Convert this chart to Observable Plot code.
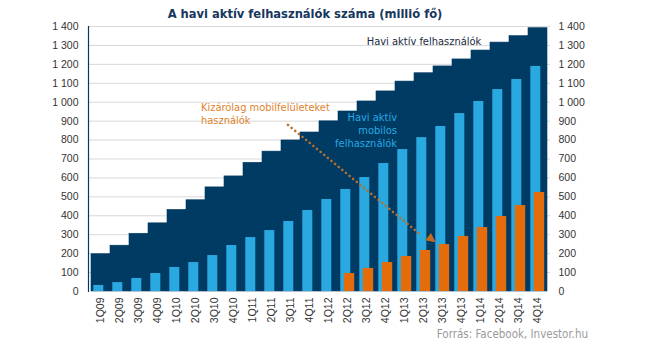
<!DOCTYPE html>
<html>
<head>
<meta charset="utf-8">
<script src="https://cdn.jsdelivr.net/npm/d3@7"></script>
<script src="https://cdn.jsdelivr.net/npm/@observablehq/plot@0.6"></script>
<style>
  html, body { margin: 0; padding: 0; background: #fff; }
  #wrap { width: 645px; height: 347px; position: relative; overflow: hidden; }
  #title { height: 18px; width: 610px; text-align: center; font: bold 12.8px 'Liberation Sans Narrow', 'DejaVu Sans Condensed', Arial, sans-serif; line-height: 27px; color: #17375e; overflow: visible; }
  #caption { position: absolute; left: 0; top: 327px; width: 588px; text-align: right; font: 11.5px 'Liberation Sans Narrow', 'DejaVu Sans Condensed', Arial, sans-serif; color: #9a9a9a; }
</style>
</head>
<body>
<div id="wrap">
  <div id="title">A havi aktív felhasználók száma (millió fő)</div>
  <div id="chart"></div>
  <div id="caption">Forrás: Facebook, Investor.hu</div>
</div>
<script>
const quarters = ["1Q09","2Q09","3Q09","4Q09","1Q10","2Q10","3Q10","4Q10","1Q11","2Q11","3Q11","4Q11","1Q12","2Q12","3Q12","4Q12","1Q13","2Q13","3Q13","4Q13","1Q14","2Q14","3Q14","4Q14"];
const totalMAU = [197,242,305,360,431,482,550,608,680,739,798,840,899,951,1004,1057,1109,1153,1189,1226,1273,1315,1349,1391];
const mobileMAU = [32,47,69,95,127,153,190,243,285,322,370,428,486,539,602,676,750,813,872,940,1004,1067,1120,1189];
const mobileOnly = [null,null,null,null,null,null,null,null,null,null,null,null,null,95,122,153,185,217,248,291,338,396,454,523];
const yTicks = [0,100,200,300,400,500,600,700,800,900,1000,1100,1200,1300,1400];

const labelTotal = "Havi aktív felhasználók";
const labelMobile = "Havi aktív\nmobilos\nfelhasználók";
const labelMobileOnly = "Kizárólag mobilfelületeket\nhasználók";

const FONT = "'Liberation Sans Narrow', 'DejaVu Sans Condensed', Arial, sans-serif";
const NAVY = "#003b64", BLUE = "#29a9e0", ORANGE = "#e46c0a";

const rows = quarters.map((q, i) => ({q, total: totalMAU[i], mobile: mobileMAU[i], only: mobileOnly[i]}));
const fmtLocale = d3.formatLocale({decimal: ",", thousands: "\u00a0", grouping: [3], currency: ["", ""]});
const fmt = fmtLocale.format(",");

const chart = Plot.plot({
  width: 645,
  height: 329,
  marginLeft: 88,
  marginRight: 95,
  marginTop: 8,
  marginBottom: 56,
  style: {fontFamily: "Arial, 'Liberation Sans', sans-serif", fontSize: "10.5px", color: "#333"},
  x: {domain: quarters, padding: 0, label: null},
  y: {domain: [0, 1400], label: null},
  marks: [
    Plot.ruleY(yTicks.filter(d => d > 0), {stroke: "#d9d9d9", strokeWidth: 1}),
    Plot.barY(rows, {x: "q", y: "total", fill: NAVY, stroke: NAVY, strokeWidth: 0.6}),
    Plot.barY(rows, {x: "q", y: "mobile", fill: BLUE, insetLeft: 2.3, insetRight: 6.7}),
    Plot.barY(rows.filter(d => d.only != null), {x: "q", y: "only", fill: ORANGE, insetLeft: 5.8, insetRight: 2.8}),
    Plot.axisY({anchor: "left", ticks: yTicks, tickFormat: fmt, tickSize: 0, tickPadding: 10, fontSize: 10.5}),
    Plot.axisY({anchor: "right", ticks: yTicks, tickFormat: fmt, tickSize: 0, tickPadding: 8, fontSize: 10.5}),
    Plot.axisX({tickRotate: -90, tickSize: 0, tickPadding: 6, fontSize: 10.5}),
    Plot.frame({anchor: "left", stroke: NAVY, strokeWidth: 1.2}),
    Plot.text([labelTotal], {x: () => "2Q13", y: () => 1322, text: d => d, fill: "#1a2a40", fontSize: 11, fontFamily: FONT, dx: 0}),
    Plot.text([labelMobile], {x: () => "4Q12", y: () => 856, text: d => d, fill: BLUE, fontSize: 11, fontFamily: FONT, textAnchor: "end", lineHeight: 1.2, dx: 11}),
    Plot.text([labelMobileOnly], {x: () => "2Q10", y: () => 940, text: d => d, fill: "#e0832c", fontSize: 11, fontFamily: FONT, textAnchor: "start", lineHeight: 1.15, dx: 5}),
    Plot.link([0], {x1: () => "3Q11", y1: () => 880, x2: () => "2Q13", y2: () => 298, dx: -3, stroke: "#b4702e", strokeWidth: 2.6, strokeDasharray: "0.1,4.6", strokeLinecap: "round"}),
    Plot.text(["\u25B6"], {x: () => "2Q13", y: () => 278, dx: 8, text: d => d, fill: "#c46a1c", fontSize: 12, fontFamily: "DejaVu Sans", rotate: 37.5})
  ]
});
document.getElementById("chart").appendChild(chart);
</script>
</body>
</html>
